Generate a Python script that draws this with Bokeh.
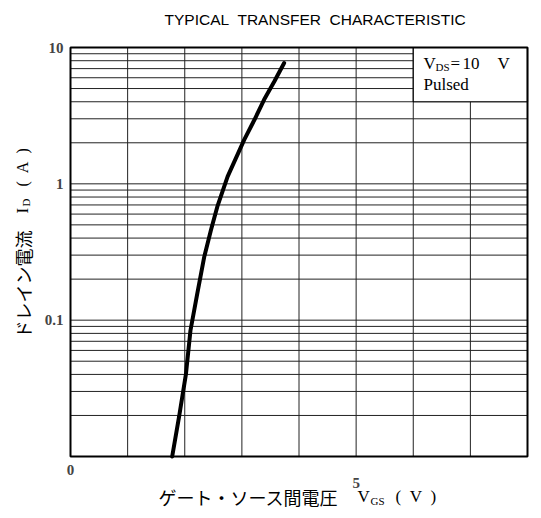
import math
from bokeh.plotting import figure
from bokeh.models import Label, Range1d
from bokeh.embed import file_html
from bokeh.resources import INLINE

# ---- data ----
vgs = [1.78, 1.90, 2.02, 2.10, 2.22, 2.34, 2.46, 2.57, 2.75, 3.04, 3.22, 3.39, 3.57, 3.74]
id_a = [0.010, 0.0195, 0.040, 0.084, 0.157, 0.29, 0.46, 0.68, 1.13, 2.1, 2.95, 4.15, 5.65, 7.7]

x_min, x_max = 0, 8
y_min, y_max = 0.01, 10
x_tick_vals = [0, 5]
x_tick_labels = ["0", "5"]
y_tick_vals = [0.1, 1, 10]
y_tick_labels = ["0.1", "1", "10"]
x_grid_vals = list(range(0, 9))
y_grid_vals = [m * 10.0 ** e for e in (-2, -1, 0) for m in range(1, 10)] + [10.0]

NB = "\u00a0"
title_text = f"TYPICAL{NB} TRANSFER{NB} CHARACTERISTIC"
note_box = dict(left=6, right=8, bottom=4, top=10)

# ---- layout (pixels) ----
W, H = 536, 510
CL, CR, CT, CB = 70, 527, 47, 456      # chart area edges on the canvas

SERIF = "Liberation Serif"
SANS = "Liberation Sans"
CJK = "Noto Sans CJK JP"

x_per_px = (x_max - x_min) / (CR - CL)
dec_per_px = (math.log10(y_max) - math.log10(y_min)) / (CB - CT)
xr = Range1d(x_min - CL * x_per_px, x_max + (W - CR) * x_per_px)
yr = Range1d(10 ** (math.log10(y_min) - (H - CB) * dec_per_px),
             10 ** (math.log10(y_max) + CT * dec_per_px))

p = figure(width=W, height=H, x_range=xr, y_range=yr, y_axis_type="log",
           x_axis_location=None, y_axis_location=None,
           output_backend="svg", toolbar_location=None, min_border=0)
p.outline_line_color = None
p.background_fill_color = "white"
p.border_fill_color = "white"
for g in list(p.grid):
    g.visible = False

GRID_COLOR = "#222222"
# vertical grid lines
p.segment(x0=x_grid_vals, y0=[y_min] * len(x_grid_vals),
          x1=x_grid_vals, y1=[y_max] * len(x_grid_vals),
          line_color=GRID_COLOR, line_width=1)
# horizontal grid lines
p.segment(x0=[x_min] * len(y_grid_vals), y0=y_grid_vals,
          x1=[x_max] * len(y_grid_vals), y1=y_grid_vals,
          line_color=GRID_COLOR, line_width=1)

# note box (white, hides the grid behind it)
p.quad(left=[note_box["left"]], right=[note_box["right"]],
       bottom=[note_box["bottom"]], top=[note_box["top"]],
       fill_color="white", line_color="black", line_width=1.2)

# chart outline
p.quad(left=[x_min], right=[x_max], bottom=[y_min], top=[y_max],
       fill_color=None, line_color="black", line_width=2)

# curve
p.line(vgs, id_a, line_width=4, line_color="black", line_cap="round")

# y tick labels
for yv, t in zip(y_tick_vals, y_tick_labels):
    p.add_layout(Label(x=x_min, y=yv, x_offset=-7, text=t,
                       text_align="right", text_baseline="middle",
                       text_font=SERIF, text_font_style="bold", text_font_size="15px"))

# x tick labels (the "5" sits lower than the "0" in the original)
x_label_page_y = {0: 469, 5: 482.5}
for xv, t in zip(x_tick_vals, x_tick_labels):
    p.add_layout(Label(x=xv, x_units="data", y=H - x_label_page_y[xv], y_units="screen",
                       text=t, text_align="center", text_baseline="middle",
                       text_font=SERIF, text_font_style="bold", text_font_size="15px"))


def lab(text, x, y_page, font, size, angle=0.0, style="normal", align="left"):
    p.add_layout(Label(x=x, y=H - y_page, x_units="screen", y_units="screen", text=text,
                       angle=angle, text_align=align, text_baseline="middle",
                       text_font=font, text_font_size=size, text_font_style=style,
                       text_color="black"))


# title
lab(title_text, 164, 19, SANS, "15.5px")

# x axis label
lab("ゲート・ソース間電圧", 158, 496, CJK, "18px")
lab("V", 357, 496, SERIF, "17px")
lab("GS", 370, 500, SERIF, "11px")
lab(f"({NB}{NB}V{NB}{NB})", 395, 496, SERIF, "17px")

# y axis label (rotated, reads bottom to top)
r = math.pi / 2
lab("ドレイン電流", 22, 338, CJK, "18px", angle=r)
lab("I", 22, 213, SERIF, "17px", angle=r)
lab("D", 25, 206, SERIF, "11px", angle=r)
lab(f"({NB}{NB}A{NB}{NB})", 22, 186, SERIF, "16px", angle=r)

# note text
lab("V", 423, 63, SERIF, "17px")
lab("DS", 435, 66, SERIF, "11px")
lab("=", 450, 63, SERIF, "17px")
lab("10", 462, 63, SERIF, "17px")
lab("V", 497, 63, SERIF, "17px")
lab("Pulsed", 423, 84, SERIF, "17px")

open("out.html", "w").write(file_html(p, INLINE))
